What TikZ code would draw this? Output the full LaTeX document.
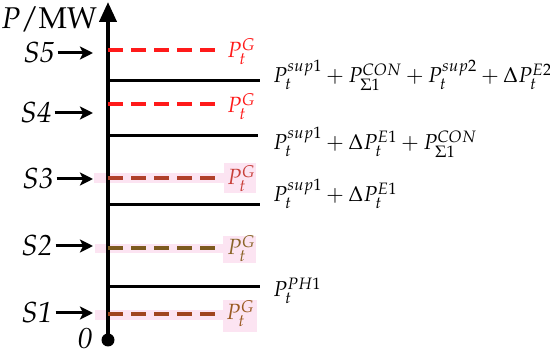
\documentclass[tikz,border=0pt]{standalone}
\usepackage[T1]{fontenc}
\usepackage{mathpazo}
\DeclareMathSizes{21.5}{21.5}{16.5}{13}
\DeclareMathSizes{22}{22}{17}{13.5}
\usetikzlibrary{arrows.meta}
\definecolor{gred}{HTML}{FF1A1A}
\definecolor{sthree}{HTML}{B0402A}
\definecolor{sthreelab}{HTML}{C8403A}
\definecolor{stwo}{HTML}{7D5A1E}
\definecolor{stwolab}{HTML}{8A6428}
\definecolor{sone}{HTML}{A0441E}
\definecolor{sonelab}{HTML}{9A5A22}
\definecolor{pinkband}{HTML}{FCE4F2}
\begin{document}
\begin{tikzpicture}[x=1pt,y=-1pt,
  slab/.style={font=\fontsize{29}{33}\selectfont\itshape, inner sep=0pt},
  rlab/.style={font=\fontsize{21.5}{26}\selectfont, inner sep=0pt, anchor=base west},
  glab/.style={font=\fontsize{22}{26}\selectfont, inner sep=0pt, anchor=base west},
  sarrow/.style={line width=3pt, -{Stealth[length=13pt,width=13pt,inset=3pt]}},
  level/.style={line width=3pt},
  gline/.style={line width=4pt, dash pattern=on 15pt off 8pt},
  band/.style={fill=pinkband}]
\useasboundingbox (0,0) rectangle (550,352);
% pink highlight bands
\fill[band] (94,173) rectangle (255,183);
\fill[band] (224,163) rectangle (256,193);
\fill[band] (95,244) rectangle (255,253);
\fill[band] (223,236) rectangle (256,263);
\fill[band] (95,310) rectangle (255,320);
\fill[band] (223,300) rectangle (257,332);
% axis
\coordinate (O) at (108,340);
\coordinate (top) at (108,2);
\draw[line width=4pt, -{Triangle[length=20pt,width=17pt]}] (O) -- (top);
\fill (O) circle (6.5);
\node[slab] (zero) at (85,339) {0};
\node[font=\fontsize{30}{34}\selectfont, inner sep=0pt] (unit) at (49,19) {$P$/MW};
% axis anchors for levels
\foreach \n/\y in {g5/50,l4/81,g4/104,l3/136,g3/178,l2/205,g2/248,l1/287,g1/314}
  \coordinate (a\n) at (108,\y);
% solid levels
\coordinate (e4) at (260,81);
\coordinate (e3) at (258,136);
\coordinate (e2) at (260,205);
\coordinate (e1) at (260,287);
\draw[level] (al4) -- (e4);
\draw[level] (al3) -- (e3);
\draw[level] (al2) -- (e2);
\draw[level] (al1) -- (e1);
% dashed generation lines
\coordinate (f5) at (215,50);
\coordinate (f4) at (215,104);
\coordinate (f3) at (215,178);
\coordinate (f2) at (215,248);
\coordinate (f1) at (215,314);
\draw[gline, gred] (ag5) -- (f5);
\draw[gline, gred] (ag4) -- (f4);
\draw[gline, sthree] (ag3) -- (f3);
\draw[gline, stwo] (ag2) -- (f2);
\draw[gline, sone] (ag1) -- (f1);
% P_t^G labels
\node[glab, text=gred] (pg5) at (227,58) {$P_t^G$};
\node[glab, text=gred] (pg4) at (227,113) {$P_t^G$};
\node[glab, text=sthreelab] (pg3) at (227,185) {$P_t^G$};
\node[glab, text=stwolab] (pg2) at (227,255) {$P_t^G$};
\node[glab, text=sonelab] (pg1) at (226,320) {$P_t^G$};
% right labels
\node[rlab] (r4) at (273,83) {$P_t^{sup1}+P_{\Sigma1}^{CON}+P_t^{sup2}+\Delta P_t^{E2}$};
\node[rlab] (r3) at (273,150) {$P_t^{sup1}+\Delta P_t^{E1}+P_{\Sigma1}^{CON}$};
\node[rlab] (r2) at (273,202) {$P_t^{sup1}+\Delta P_t^{E1}$};
\node[rlab] (r1) at (273,297) {$P_t^{PH1}$};
% state labels and arrows
\node[slab] (s5) at (39,53) {S5};
\node[slab] (s4) at (36,113) {S4};
\node[slab] (s3) at (38,179) {S3};
\node[slab] (s2) at (37,246) {S2};
\node[slab] (s1) at (37,313) {S1};
\coordinate (t5) at (93,53);
\coordinate (t4) at (93,113);
\coordinate (t3) at (93,179);
\coordinate (t2) at (93,246);
\coordinate (t1) at (93,313);
\foreach \i in {1,...,5}
  \draw[sarrow] ([xshift=3pt]s\i.east) -- (t\i);
\end{tikzpicture}
\end{document}
